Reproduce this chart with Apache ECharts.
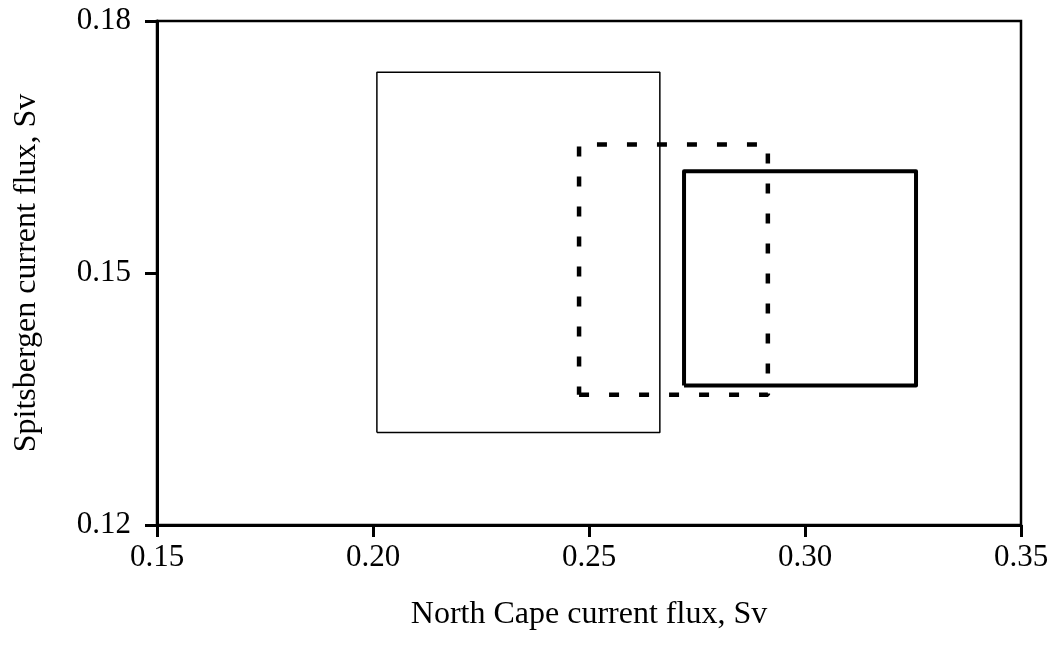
<!DOCTYPE html>
<html>
<head>
<meta charset="utf-8">
<script src="https://cdn.jsdelivr.net/npm/echarts@6/dist/echarts.min.js"></script>
<style>html,body{margin:0;padding:0;background:#fff;}#c{width:1058px;height:657px;}</style>
</head>
<body>
<div id="c"></div>
<script>
// Box bounds [xMin, xMax, yMin, yMax]
const thinBox = [0.2009, 0.2664, 0.1310, 0.1739];
const dashedBox = [0.2477, 0.2914, 0.1355, 0.1653];
const thickBox = [0.2720, 0.3257, 0.1366, 0.1621];
const xTicks = [0.15, 0.20, 0.25, 0.30, 0.35];
const yTicks = [0.12, 0.15, 0.18];
const xTitle = 'North Cape current flux, Sv';
const yTitle = 'Spitsbergen current flux, Sv';

function loop(b) {
  return [[b[0], b[2]], [b[1], b[2]], [b[1], b[3]], [b[0], b[3]], [b[0], b[2]]];
}
const font = 'Liberation Serif';
const chart = echarts.init(document.getElementById('c'));
const axisCommon = {
  type: 'value',
  axisLine: { show: true, onZero: false, lineStyle: { color: '#000', width: 3 } },
  axisTick: { show: true, inside: false, length: 12, lineStyle: { color: '#000', width: 3 } },
  splitLine: { show: false },
  nameTextStyle: { color: '#000', fontFamily: font, fontSize: 32 },
  nameLocation: 'middle'
};
const labelStyle = { color: '#000', fontFamily: font, fontSize: 31, formatter: v => v.toFixed(2) };
chart.setOption({
  animation: false,
  grid: { left: 157, right: 37, top: 21, bottom: 132, show: true, borderColor: '#000', borderWidth: 2.5 },
  xAxis: Object.assign({}, axisCommon, {
    min: xTicks[0], max: xTicks[xTicks.length - 1], interval: 0.05,
    name: xTitle, nameGap: 74,
    axisLabel: Object.assign({}, labelStyle, { margin: 17 })
  }),
  yAxis: Object.assign({}, axisCommon, {
    min: yTicks[0], max: yTicks[yTicks.length - 1], interval: 0.03,
    name: yTitle, nameGap: 114,
    axisLabel: Object.assign({}, labelStyle, { margin: 26 })
  }),
  series: [
    { type: 'line', data: loop(thinBox), symbol: 'none', lineStyle: { color: '#000', width: 1.5 } },
    { type: 'line', data: loop(dashedBox), symbol: 'none', lineStyle: { color: '#000', width: 4.5, type: [10, 20] } },
    { type: 'line', data: loop(thickBox), symbol: 'none', lineStyle: { color: '#000', width: 4, join: 'round' } }
  ]
});
</script>
</body>
</html>
